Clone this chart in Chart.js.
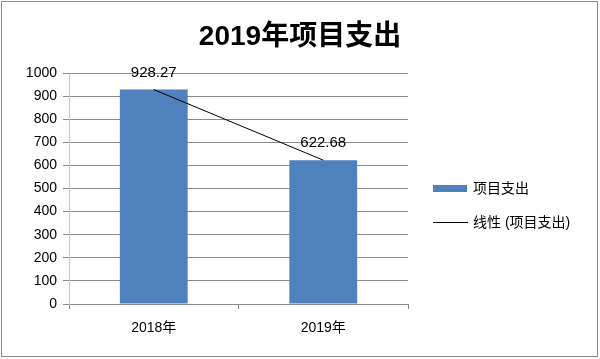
<!DOCTYPE html>
<html>
<head>
<meta charset="utf-8">
<script src="https://cdn.jsdelivr.net/npm/chart.js@4.4.0/dist/chart.umd.min.js"></script>
<style>
  html, body { margin: 0; padding: 0; background: #fff; }
  #wrap { width: 600px; height: 359px; }
</style>
</head>
<body>
<div id="wrap"><canvas id="chart" width="600" height="359"></canvas></div>
<script>
// data
const categories = ['2018年', '2019年'];
const spending = [928.27, 622.68];
const yTicks = [0, 100, 200, 300, 400, 500, 600, 700, 800, 900, 1000];

const seriesName = '项目支出';
const trendName = '线性 (项目支出)';
const barColor = '#4f81bd';
const fontFamily = "'Liberation Sans', 'Noto Sans CJK SC', sans-serif";

// least-squares linear trend over the category index
function linearTrend(values) {
    const n = values.length;
    const xs = values.map((_, i) => i + 1);
    const mx = xs.reduce((a, b) => a + b, 0) / n;
    const my = values.reduce((a, b) => a + b, 0) / n;
    let num = 0, den = 0;
    xs.forEach((x, i) => { num += (x - mx) * (values[i] - my); den += (x - mx) * (x - mx); });
    const slope = den ? num / den : 0;
    return xs.map(x => my + slope * (x - mx));
}

// title, value labels, legend and outer frame
const decorations = {
    id: 'decorations',
    afterDraw(chart) {
        const ctx = chart.ctx;
        ctx.save();

        // frame
        ctx.strokeStyle = '#8a8a8a';
        ctx.lineWidth = 1;
        ctx.strokeRect(1.5, 1.5, 596, 355);

        // title
        ctx.fillStyle = '#000';
        ctx.font = "bold 28px 'Liberation Sans', 'Noto Sans CJK SC', sans-serif";
        ctx.textAlign = 'center';
        ctx.textBaseline = 'middle';
        ctx.fillText('2019年项目支出', 300, 37);

        // value labels above bars
        ctx.font = '15px ' + fontFamily;
        const meta = chart.getDatasetMeta(0);
        chart.getDatasetMeta(1).data.forEach((bar, i) => {
            ctx.fillText(spending[i].toFixed(2), bar.x, bar.y - 17);
        });

        // legend
        ctx.textAlign = 'left';
        ctx.font = '14px ' + fontFamily;
        ctx.fillStyle = barColor;
        ctx.fillRect(433, 185, 34, 7);
        ctx.fillStyle = '#000';
        ctx.fillText(seriesName, 473, 189);

        ctx.strokeStyle = '#000';
        ctx.beginPath();
        ctx.moveTo(433, 222.5);
        ctx.lineTo(468, 222.5);
        ctx.stroke();
        ctx.fillText(trendName, 473, 223);

        ctx.restore();
    }
};

new Chart(document.getElementById('chart'), {
    data: {
        labels: categories,
        datasets: [
            {
                type: 'line',
                label: trendName,
                data: linearTrend(spending),
                borderColor: '#000',
                borderWidth: 1,
                pointRadius: 0,
                fill: false,
                order: 0
            },
            {
                type: 'bar',
                label: seriesName,
                data: spending,
                backgroundColor: barColor,
                categoryPercentage: 0.8,
                barPercentage: 0.5,
                order: 1
            }
        ]
    },
    options: {
        responsive: false,
        animation: false,
        layout: { padding: { top: 73, right: 192, bottom: 0, left: 0 } },
        scales: {
            x: {
                afterFit(scale) { scale.height = 55; },
                grid: {
                    display: true,
                    offset: true,
                    drawOnChartArea: false,
                    drawTicks: true,
                    tickLength: 5,
                    color: '#8a8a8a'
                },
                border: { color: '#8a8a8a' },
                ticks: {
                    color: '#000',
                    padding: 11,
                    font: { size: 14, family: fontFamily }
                }
            },
            y: {
                min: 0,
                max: 1000,
                afterFit(scale) { scale.width = 69; },
                afterBuildTicks(scale) { scale.ticks = yTicks.map(v => ({ value: v })); },
                grid: {
                    color: '#8a8a8a',
                    tickLength: 6
                },
                border: { color: '#c8c8c8' },
                ticks: {
                    color: '#000',
                    padding: 6,
                    font: { size: 14, family: fontFamily },
                    callback: v => String(v)
                }
            }
        },
        plugins: {
            legend: { display: false },
            title: { display: false },
            tooltip: { enabled: false }
        }
    },
    plugins: [decorations]
});
</script>
</body>
</html>
